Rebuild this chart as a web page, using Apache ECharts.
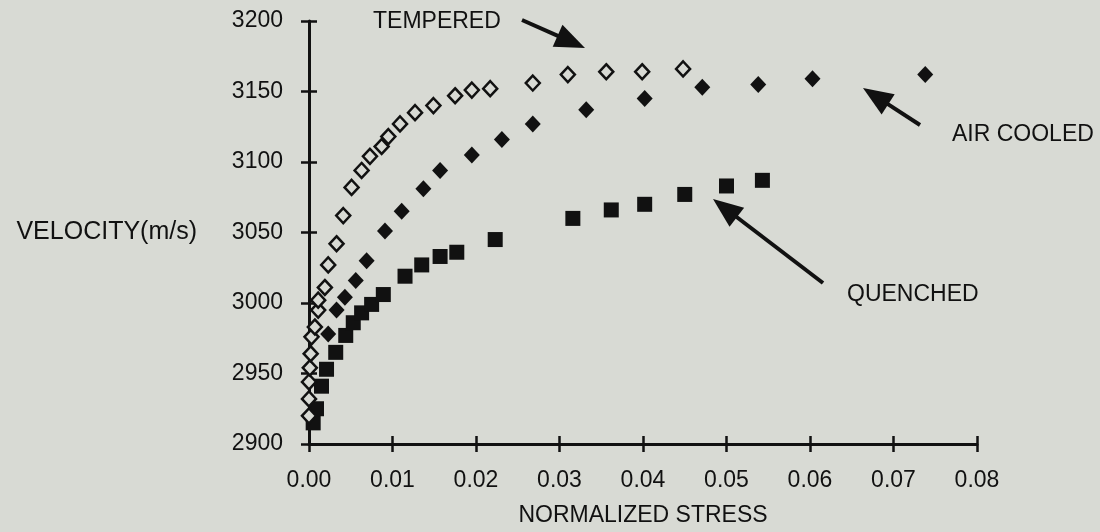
<!DOCTYPE html>
<html>
<head>
<meta charset="utf-8">
<title>Velocity vs normalized stress</title>
<script src="https://cdn.jsdelivr.net/npm/echarts@6.0.0/dist/echarts.min.js"></script>
<style>
html, body { margin: 0; padding: 0; background: #d8dad4; }
#charts { width: 1100px; height: 532px; }
</style>
</head>
<body>
<div id="charts"></div>
<script>
// axis ticks
var xTicks = [0.00, 0.01, 0.02, 0.03, 0.04, 0.05, 0.06, 0.07, 0.08];
var yTicks = [2900, 2950, 3000, 3050, 3100, 3150, 3200];

// TEMPERED (open diamonds)
var temperedX = [0.0000, 0.0000, 0.0000, 0.0001, 0.0002, 0.0003, 0.0007, 0.0011, 0.0011, 0.0019,
                 0.0023, 0.0033, 0.0041, 0.0051, 0.0063, 0.0073, 0.0087, 0.0095, 0.0109, 0.0127,
                 0.0149, 0.0175, 0.0195, 0.0217, 0.0268, 0.0310, 0.0356, 0.0399, 0.0448];
var temperedY = [2920, 2932, 2944, 2954, 2964, 2976, 2983, 2995, 3002, 3011,
                 3027, 3042, 3062, 3082, 3094, 3104, 3111, 3118, 3127, 3135,
                 3140, 3147, 3151, 3152, 3156, 3162, 3164, 3164, 3166];

// AIR COOLED (filled diamonds)
var airX = [0.0023, 0.0033, 0.0043, 0.0056, 0.0069, 0.0091, 0.0111, 0.0137, 0.0157,
            0.0195, 0.0231, 0.0268, 0.0332, 0.0402, 0.0471, 0.0538, 0.0603, 0.0738];
var airY = [2978, 2995, 3004, 3016, 3030, 3051, 3065, 3081, 3094,
            3105, 3116, 3127, 3137, 3145, 3153, 3155, 3159, 3162];

// QUENCHED (filled squares)
var quenchedX = [0.0005, 0.0009, 0.0015, 0.0021, 0.0032, 0.0044, 0.0053, 0.0063, 0.0075, 0.0089,
                 0.0115, 0.0135, 0.0157, 0.0177, 0.0223, 0.0316, 0.0362, 0.0402, 0.0450, 0.0500, 0.0543];
var quenchedY = [2915, 2925, 2941, 2953, 2965, 2977, 2986, 2993, 2999, 3006,
                 3019, 3027, 3033, 3036, 3045, 3060, 3066, 3070, 3077, 3083, 3087];

var bg = '#d8dad4';
var ink = '#111111';
var font = '"Liberation Sans", Arial, sans-serif';

function pairs(xs, ys) {
	var list = [];
	for (var i = 0; i < xs.length; i++) {
		list.push([xs[i], ys[i]]);
	}
	return list;
}

//箭头: line plus triangle head, pixel positions
function arrow(x1, y1, x2, y2) {
	var dx = x2 - x1, dy = y2 - y1;
	var len = Math.sqrt(dx * dx + dy * dy);
	var ux = dx / len, uy = dy / len;
	var bx = x2 - ux * 30, by = y2 - uy * 30;
	return [
		{type: 'line', silent: true,
			shape: {x1: x1, y1: y1, x2: bx + ux * 4, y2: by + uy * 4},
			style: {stroke: ink, lineWidth: 4}},
		{type: 'polygon', silent: true,
			shape: {points: [[x2, y2], [bx - uy * 12, by + ux * 12], [bx + uy * 12, by - ux * 12]]},
			style: {fill: ink}}
	];
}

function label(text, x, y) {
	return {type: 'text', silent: true,
		style: {text: text, x: x, y: y, fill: ink, font: '23px ' + font, verticalAlign: 'middle'}};
}

function showCharts() {
	var myChart = echarts.init(document.getElementById('charts'));
	var graphics = [
		label('TEMPERED', 373, 22),
		label('AIR COOLED', 952, 135),
		label('QUENCHED', 847, 295)
	];
	graphics = graphics.concat(arrow(522, 20, 585, 48));
	graphics = graphics.concat(arrow(920, 125, 863, 88));
	graphics = graphics.concat(arrow(823, 283, 713, 199));

	var xMain = {
		type: 'value',
		min: xTicks[0], max: xTicks[xTicks.length - 1], interval: 0.01,
		name: 'NORMALIZED STRESS',
		nameLocation: 'middle',
		nameGap: 60,
		nameTextStyle: {color: ink, fontSize: 23, fontFamily: font},
		axisLine: {onZero: false, lineStyle: {color: ink, width: 3}},
		axisTick: {inside: false, length: 8, lineStyle: {color: ink, width: 2.5}},
		axisLabel: {margin: 25, color: ink, fontSize: 23, fontFamily: font,
			formatter: function (v) { return v.toFixed(2); }},
		splitLine: {show: false}
	};
	var xInner = {
		type: 'value', position: 'bottom',
		min: xTicks[0], max: xTicks[xTicks.length - 1], interval: 0.01,
		axisLine: {show: false, onZero: false},
		axisTick: {inside: true, length: 8, lineStyle: {color: ink, width: 2.5}},
		axisLabel: {show: false},
		splitLine: {show: false}
	};
	var yMain = {
		type: 'value',
		min: yTicks[0], max: yTicks[yTicks.length - 1], interval: 50,
		name: 'VELOCITY(m/s)',
		nameLocation: 'middle',
		nameRotate: 0,
		nameGap: 112,
		nameTextStyle: {color: ink, fontSize: 25, fontFamily: font, padding: [16, 0, 0, 0]},
		axisLine: {onZero: false, lineStyle: {color: ink, width: 3}},
		axisTick: {inside: false, length: 8, lineStyle: {color: ink, width: 2.5}},
		axisLabel: {margin: 26, color: ink, fontSize: 23, fontFamily: font,
			formatter: function (v) { return String(v); }},
		splitLine: {show: false}
	};
	var yInner = {
		type: 'value', position: 'left',
		min: yTicks[0], max: yTicks[yTicks.length - 1], interval: 50,
		axisLine: {show: false, onZero: false},
		axisTick: {inside: true, length: 8, lineStyle: {color: ink, width: 2.5}},
		axisLabel: {show: false},
		splitLine: {show: false}
	};

	var option = {
		backgroundColor: bg,
		animation: false,
		grid: {left: 309, right: 123, top: 21, bottom: 86},
		xAxis: [xMain, xInner],
		yAxis: [yMain, yInner],
		graphic: graphics,
		series: [
			{
				name: 'QUENCHED',
				type: 'scatter',
				symbol: 'rect',
				symbolSize: 15,
				clip: false,
				itemStyle: {color: ink, opacity: 1},
				data: pairs(quenchedX, quenchedY)
			},
			{
				name: 'AIR COOLED',
				type: 'scatter',
				symbol: 'diamond',
				symbolSize: [16, 17],
				clip: false,
				itemStyle: {color: ink, opacity: 1},
				data: pairs(airX, airY)
			},
			{
				name: 'TEMPERED',
				type: 'scatter',
				symbol: 'diamond',
				symbolSize: [14, 15],
				clip: false,
				itemStyle: {color: bg, borderColor: ink, borderWidth: 2.5, opacity: 1},
				data: pairs(temperedX, temperedY)
			}
		]
	};
	myChart.setOption(option);
}

showCharts();
</script>
</body>
</html>
